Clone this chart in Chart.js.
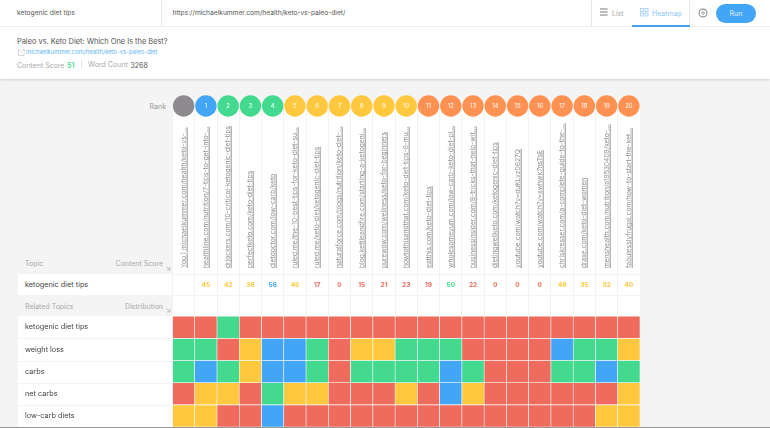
<!DOCTYPE html>
<html><head><meta charset="utf-8">
<script src="https://cdn.jsdelivr.net/npm/chart.js@4"></script>
<style>
html,body{margin:0;padding:0;background:#f4f4f4;}
#page{position:relative;width:770px;height:428px;overflow:hidden;background:#f4f4f4;font-family:Inter,"Noto Sans",sans-serif;color:#555;}
.abs{position:absolute;white-space:nowrap;line-height:1;}
.box{position:absolute;}
.vc{transform:translateY(-50%);}
.r{transform:translate(-100%,-50%);}
.c{transform:translate(-50%,-50%);}
canvas{position:absolute;left:0;top:0;}
.url{position:absolute;white-space:nowrap;line-height:1;font-size:6.7px;color:#909090;text-decoration:underline;transform-origin:0 0;transform:rotate(-90deg) translateY(-50%);}
</style></head><body>
<div id="page">
  <div class="box" style="left:0;top:0;width:770px;height:26px;background:#fff"></div>
  <div class="box" style="left:0;top:26px;width:770px;height:1px;background:#eee"></div>
  <div class="box" style="left:161px;top:0;width:1px;height:26px;background:#e6e6e6"></div>
  <div class="abs vc" style="left:17px;top:12.5px;font-size:6.7px;color:#555">ketogenic diet tips</div>
  <div class="abs vc" style="left:172.5px;top:12.5px;font-size:6.65px;color:#555">https://michaelkummer.com/health/keto-vs-paleo-diet/</div>

  <div class="box" style="left:591px;top:0;width:1px;height:26px;background:#e6e6e6"></div>
  <div class="box" style="left:689px;top:0;width:1px;height:26px;background:#e6e6e6"></div>
  <svg class="box" style="left:600px;top:8px" width="8" height="9"><rect y="0" width="7.5" height="2" fill="#bbb"/><rect y="3" width="7.5" height="2" fill="#bbb"/><rect y="6" width="7.5" height="2" fill="#bbb"/></svg>
  <div class="abs vc" style="left:612px;top:12.5px;font-size:7px;color:#aaa">List</div>
  <svg class="box" style="left:640px;top:8px" width="9" height="9" fill="none" stroke="#9ccff8" stroke-width=".8"><rect x=".5" y=".5" width="3" height="3"/><rect x="5" y=".5" width="3" height="3"/><rect x=".5" y="5" width="3" height="3"/><rect x="5" y="5" width="3" height="3"/></svg>
  <div class="abs vc" style="left:652px;top:12.5px;font-size:7px;color:#8cc8f6">Heatmap</div>
  <div class="box" style="left:632px;top:25px;width:58px;height:1.5px;background:#42a5f5"></div>
  <svg class="box" style="left:698px;top:7.5px" width="10" height="10" fill="none" stroke="#8f8f8f"><circle cx="5" cy="5" r="3.9" stroke-width="1.1"/><circle cx="5" cy="5" r="1.3" stroke-width=".8"/></svg>
  <div class="box" style="left:716px;top:3.5px;width:40px;height:19px;border-radius:10px;background:#42a5f5"></div>
  <div class="abs c" style="left:736px;top:12.8px;font-size:7px;color:#e6f3fe">Run</div>

  <div class="box" style="left:0;top:27px;width:770px;height:52px;background:#fff;box-shadow:0 1px 2px rgba(0,0,0,.15)"></div>
  <div class="abs vc" style="left:17px;top:42px;font-size:7.4px;color:#555">Paleo vs. Keto Diet: Which One Is the Best?</div>
  <svg class="box" style="left:18px;top:49px" width="7" height="7" fill="none" stroke="#ccc" stroke-width=".8"><path d="M3 1H.5v5.5H6V4M3 4L6.5.5M4.5.5h2v2"/></svg>
  <div class="abs vc" style="left:26px;top:52px;font-size:5.9px;color:#64b5f6">michaelkummer.com/health/keto-vs-paleo-diet</div>
  <div class="abs vc" style="left:17px;top:64.5px;font-size:7px;color:#aaa">Content Score</div>
  <div class="abs vc" style="left:67px;top:64.5px;font-size:7px;font-weight:600;color:#43da8f">51</div>
  <div class="box" style="left:81px;top:60px;width:1px;height:9px;background:#e6e6e6"></div>
  <div class="abs vc" style="left:88px;top:64.5px;font-size:7.1px;color:#aaa">Word Count</div>
  <div class="abs vc" style="left:130.5px;top:64.5px;font-size:7px;color:#555">3268</div>

  <div class="abs r" style="left:166px;top:106px;font-size:7px;color:#999">Rank</div>
  <div class="box" style="left:172.5px;top:106px;width:467.5px;height:210px;background:#fff"></div>
  <div class="abs vc" style="left:25px;top:263px;font-size:7px;color:#aaa">Topic</div>
  <div class="abs r" style="left:163px;top:263px;font-size:7px;color:#aaa">Content Score</div>
  <svg class="box" style="left:166px;top:266px" width="5" height="5" fill="none" stroke="#aaa" stroke-width=".7"><path d="M.5.5L4 4M1 4h3V1"/></svg>
  <div class="box" style="left:18px;top:274px;width:154.5px;height:21px;background:#fff"></div>
  <div class="abs vc" style="left:25px;top:285px;font-size:7.3px;color:#444">ketogenic diet tips</div>
  <div class="abs vc" style="left:25px;top:305.5px;font-size:7px;color:#aaa">Related Topics</div>
  <div class="abs r" style="left:163px;top:305.5px;font-size:7px;color:#aaa">Distribution</div>
  <svg class="box" style="left:166px;top:308px" width="5" height="5" fill="none" stroke="#aaa" stroke-width=".7"><path d="M.5.5L4 4M1 4h3V1"/></svg>
  <div class="box" style="left:18px;top:316px;width:154.5px;height:111px;background:#fff"></div>
  <div id="rowLabels"></div>
  <div id="chartHost"><canvas id="c" width="770" height="428"></canvas></div>
  <div id="labels"></div>
  <div class="box" style="left:0;top:427px;width:770px;height:1px;background:#999"></div>
</div>
<script>
const urls = [
 "You | michaelkummer.com/health/keto-vs-...",
 "healthline.com/nutrition/7-tips-to-get-into-...",
 "drjockers.com/10-critical-ketogenic-diet-tips",
 "perfectketo.com/keto-diet-tips",
 "dietdoctor.com/low-carb/keto",
 "ruled.me/the-10-best-tips-for-keto-diet-su...",
 "ruled.me/keto-diet/ketogenic-diet-tips",
 "naturalforce.com/blogs/nutrition/keto-diet-...",
 "blog.kettleandfire.com/starting-a-ketogeni...",
 "purewow.com/wellness/keto-for-beginners",
 "howtothisandthat.com/keto-diet-tips-6-mu...",
 "eatthis.com/keto-diet-tips",
 "wholesomeyum.com/low-carb-keto-diet-pl...",
 "businessinsider.com/8-tricks-that-help-wit...",
 "dietingwellketo.com/ketogenic-diet-tips",
 "youtube.com/watch?v=duKLvz0627Q",
 "youtube.com/watch?v=xwhwk7nsTsE",
 "chriskresser.com/a-complete-guide-to-the-...",
 "draxe.com/keto-diet-women",
 "menshealth.com/nutrition/a19530409/keto-...",
 "fabulesslyfrugal.com/how-to-start-the-ket..."
];
const ranks = ["",1,2,3,4,5,6,7,8,9,10,11,12,13,14,15,16,17,18,19,20];
const scores = [null,45,42,38,56,46,17,0,15,21,23,19,50,22,0,0,0,48,35,32,40];
const topics = ["ketogenic diet tips","weight loss","carbs","net carbs","low-carb diets"];
// distribution tiers: 0 red, 1 yellow, 2 green, 3 blue
const rowKetogenic = [0,0,2,0,0,0,0,0,0,0,0,0,0,0,0,0,0,0,0,0,0];
const rowWeightLoss = [2,2,0,1,3,3,2,0,1,1,2,2,2,0,0,0,0,3,2,2,1];
const rowCarbs = [2,3,2,1,3,3,2,0,2,2,2,2,3,2,0,0,0,2,2,3,2];
const rowNetCarbs = [0,1,1,0,2,1,1,0,0,0,1,0,3,1,0,0,0,0,0,0,1];
const rowLowCarb = [1,1,0,0,3,0,0,0,0,0,0,0,0,0,0,0,0,0,0,1,1];

const RED="#ee6b5e",YEL="#ffc83f",GRN="#43da8f",BLU="#42a5f5",ORG="#ff9252",GRY="#8e8a8e";
const tierColor=[RED,YEL,GRN,BLU];
const rows=[rowKetogenic,rowWeightLoss,rowCarbs,rowNetCarbs,rowLowCarb];
const rankColor=r=>r===""?GRY:r===1?BLU:r<=4?GRN:r<=10?YEL:ORG;
const scoreColor=s=>s>=55?BLU:s>=50?GRN:s>=30?YEL:RED;
const ROW_MAX=14.5;            // scale top, in heat-row units
const SCORE_ROW=6.4;           // row position of the score labels

const barSets=rows.slice().reverse().map((row,i)=>({
  type:"bar",label:topics[topics.length-1-i],data:row.map(()=>1),
  backgroundColor:row.map(t=>tierColor[t]),
  borderColor:"#fff",borderWidth:.6,borderSkipped:false,
  barPercentage:1,categoryPercentage:1,order:2
}));
const rankSet={type:"line",label:"Rank",data:ranks.map(()=>ROW_MAX),showLine:false,clip:false,
  pointRadius:10.7,pointHoverRadius:10.7,pointBorderWidth:0,
  pointBackgroundColor:ranks.map(rankColor),order:1};

const chart=new Chart(document.getElementById("c"),{
  data:{labels:urls,datasets:[...barSets,rankSet]},
  options:{responsive:false,animation:false,devicePixelRatio:1,
    layout:{autoPadding:false,padding:{left:172.5,right:130,top:106,bottom:1}},
    plugins:{legend:{display:false},tooltip:{enabled:false}},
    scales:{
      x:{stacked:true,offset:true,ticks:{display:false},border:{display:false},
         afterFit(s){s.height=0;},
         grid:{color:"#f3f3f3",lineWidth:1,drawTicks:false,offset:true}},
      y:{stacked:true,display:false,min:0,max:ROW_MAX}
    }}
});

const host=document.getElementById("labels");
const add=(cls,css,txt)=>{const d=document.createElement("div");d.className=cls;d.style.cssText=css;d.textContent=txt;host.appendChild(d);};
const sx=chart.scales.x,sy=chart.scales.y;
urls.forEach((u,i)=>{
  const x=sx.getPixelForValue(i);
  add("url",`left:${x}px;top:268px`,u);
  if(ranks[i]!=="") add("abs c",`left:${x}px;top:${sy.getPixelForValue(ROW_MAX)}px;font-size:6px;color:#fff`,ranks[i]);
  if(scores[i]!==null) add("abs c",`left:${x}px;top:${sy.getPixelForValue(SCORE_ROW)}px;font-size:6.5px;font-weight:700;color:${scoreColor(scores[i])}`,scores[i]);
});
[[172.5,274,467.5],[172.5,295,467.5]].forEach(l=>{
  const d=document.createElement("div");d.className="box";
  d.style.cssText=`left:${l[0]}px;top:${l[1]}px;width:${l[2]}px;height:1px;background:#f3f3f3`;host.appendChild(d);
});
topics.forEach((t,i)=>{
  const top=sy.getPixelForValue(5-i), mid=sy.getPixelForValue(4.5-i);
  add("abs vc",`left:25px;top:${mid}px;font-size:7.3px;color:#444`,t);
  if(i>0){const d=document.createElement("div");d.className="box";
    d.style.cssText=`left:18px;top:${top}px;width:154.5px;height:1px;background:#f3f3f3`;host.appendChild(d);}
});
</script>
</body></html>
